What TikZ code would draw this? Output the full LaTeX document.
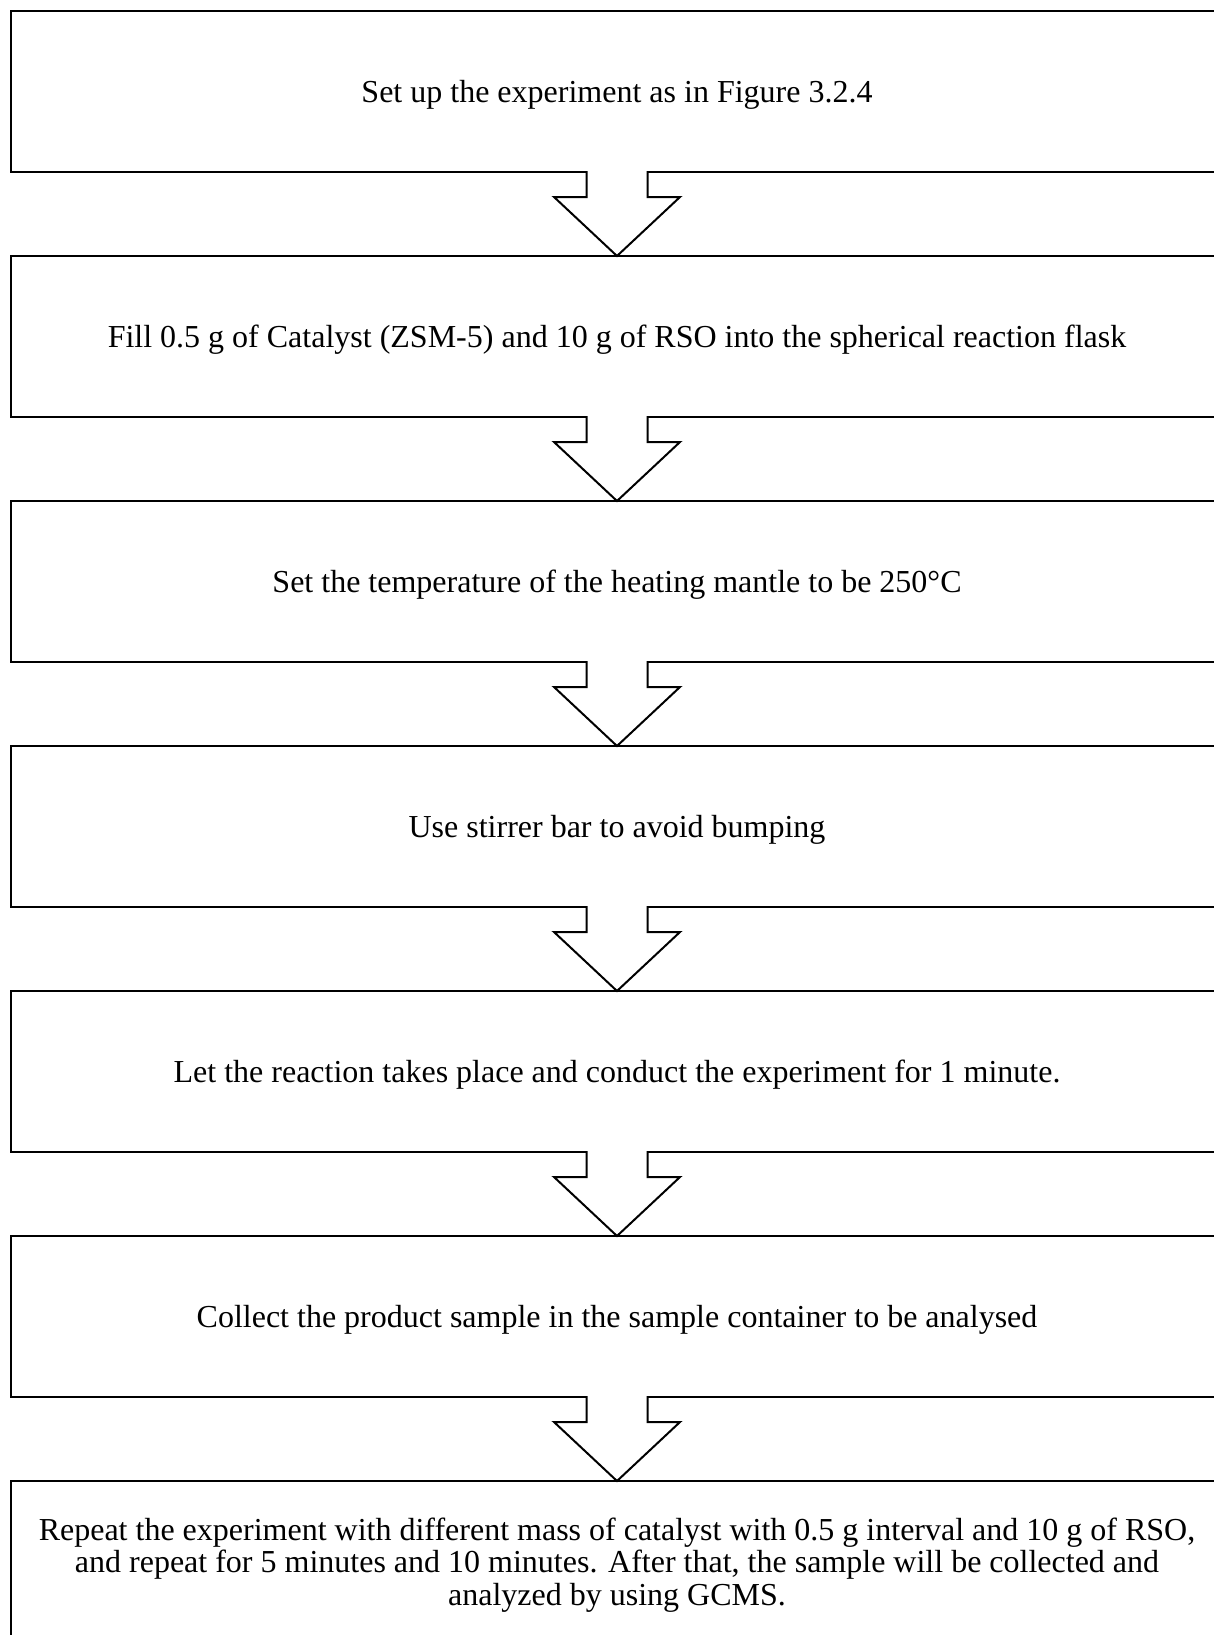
\documentclass[tikz,border=0pt]{standalone}
\usepackage{fontspec}
\setmainfont{Liberation Serif}
\usetikzlibrary{calc}
\begin{document}
\begin{tikzpicture}[x=1pt,y=-1pt,
  stepbox/.style={draw, line width=2pt, rectangle, minimum width=1212.6pt,
    minimum height=161pt, inner sep=0pt, outer sep=0pt, anchor=north west,
    font=\fontsize{32}{32.5}\selectfont, align=center, text depth=0pt},
  arrowline/.style={draw, line width=2pt, line join=miter, miter limit=10}]
\useasboundingbox (0,0) rectangle (1214,1635);
\clip (0,0) rectangle (1214,1635);
\node[stepbox] (b1) at (10.7,11) {Set up the experiment as in Figure 3.2.4};
\node[stepbox] (b2) at (10.7,256) {Fill 0.5 g of Catalyst (ZSM-5) and 10 g of RSO into the spherical reaction flask};
\node[stepbox] (b3) at (10.7,501) {Set the temperature of the heating mantle to be 250°C};
\node[stepbox] (b4) at (10.7,746) {Use stirrer bar to avoid bumping};
\node[stepbox] (b5) at (10.7,991) {Let the reaction takes place and conduct the experiment for 1 minute.};
\node[stepbox] (b6) at (10.7,1236) {Collect the product sample in the sample container to be analysed};
\node[stepbox] (b7) at (10.7,1481) {Repeat the experiment with different mass of catalyst with 0.5 g interval and 10 g of RSO,\\
and repeat for 5 minutes and 10 minutes. After that, the sample will be collected and\\
analyzed by using GCMS.};
\foreach \a/\b in {b1/b2,b2/b3,b3/b4,b4/b5,b5/b6,b6/b7}{
  \fill[white] ($(\a.south)+(-30.5,-1.6)$) rectangle ($(\a.south)+(30.5,1.6)$);
  \draw[arrowline] ($(\a.south)+(-30.5,-1)$) -- ($(\a.south)+(-30.5,25)$)
    -- ($(\a.south)+(-63,25)$) -- (\b.north) -- ($(\a.south)+(63,25)$)
    -- ($(\a.south)+(30.5,25)$) -- ($(\a.south)+(30.5,-1)$);
}
\end{tikzpicture}
\end{document}
